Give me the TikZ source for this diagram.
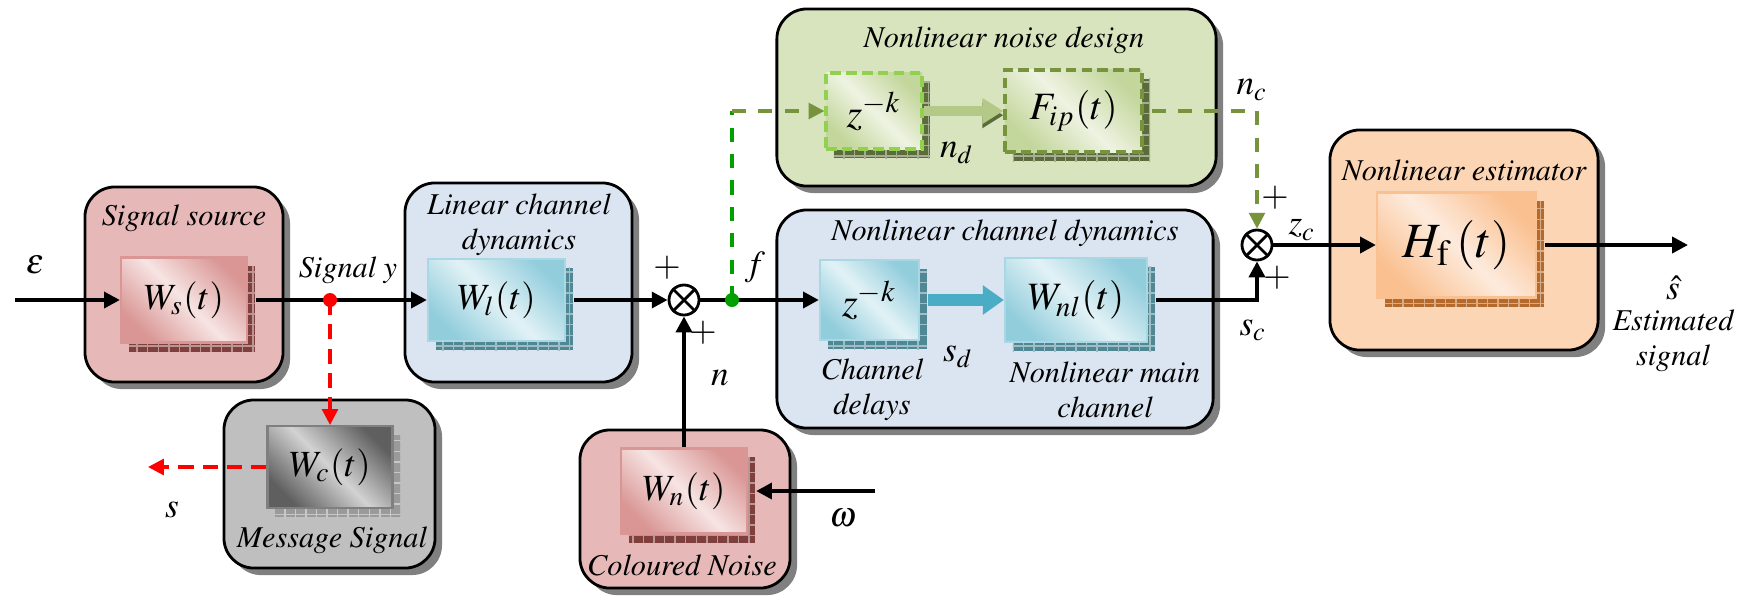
\documentclass[tikz,border=0pt]{standalone}
\usepackage[T1]{fontenc}
\usepackage{mathptmx}
\usetikzlibrary{shadows,patterns,arrows.meta}

\definecolor{ssOut}{HTML}{E6B9B8}
\definecolor{ssDark}{HTML}{D99694}
\definecolor{ssLight}{HTML}{F6E4E3}
\definecolor{ssShd}{HTML}{7F3F3D}
\definecolor{msgOut}{HTML}{BFBFBF}
\definecolor{msgDark}{HTML}{5F5F5F}
\definecolor{msgLight}{HTML}{D2D2D2}
\definecolor{msgEdge}{HTML}{7F7F7F}
\definecolor{msgShd}{HTML}{9A9A9A}
\definecolor{linOut}{HTML}{DBE5F1}
\definecolor{linDark}{HTML}{92CDDC}
\definecolor{linLight}{HTML}{E2F2F6}
\definecolor{linEdge}{HTML}{A9D8E4}
\definecolor{linShd}{HTML}{4F8795}
\definecolor{nzOut}{HTML}{D7E4BD}
\definecolor{nzDark}{HTML}{C3D69B}
\definecolor{nzLight}{HTML}{EEF3E2}
\definecolor{nzShd}{HTML}{5B6B3A}
\definecolor{estOut}{HTML}{FCD5B5}
\definecolor{estDark}{HTML}{FAC090}
\definecolor{estLight}{HTML}{FDEBDD}
\definecolor{estShd}{HTML}{B46A2C}
\definecolor{grn}{HTML}{00A000}
\definecolor{olv}{HTML}{77933C}
\definecolor{lgrn}{HTML}{92D050}
\definecolor{cyfat}{HTML}{4BACC6}

\tikzset{
  grp/.style={draw=black, line width=0.8pt, rounded corners=0.3cm, inner sep=0pt,
    drop shadow={shadow xshift=.07cm, shadow yshift=-.07cm, fill=black!50, opacity=1}},
  blk/.style n args={4}{draw=#3, line width=0.6pt, inner sep=0pt,
    top color=#1, bottom color=#1, middle color=#2, shading angle=-45,
    general shadow={shadow xshift=.08cm, shadow yshift=-.09cm, fill=#4},
    general shadow={shadow xshift=.08cm, shadow yshift=-.09cm, pattern=grid, pattern color=white!45!#4},
    font=\fontsize{10.5}{12}\selectfont},
  ttl/.style={font=\fontsize{8.6}{9.8}\selectfont\itshape, inner sep=0pt},
  lbl/.style={font=\fontsize{10}{12}\selectfont, inner sep=0pt},
  sumnode/.style={circle, draw, line width=0.8pt, fill=white, minimum size=0.3cm, inner sep=0pt},
  sig/.style={line width=1.1pt, -{Triangle[length=4.5pt,width=4.5pt]}},
  redd/.style={red, line width=0.9pt, dash pattern=on 4.3pt off 2.6pt, -{Triangle[length=4.5pt,width=4.5pt]}},
  grnd/.style={grn, line width=0.9pt, dash pattern=on 4pt off 3.5pt},
  olvd/.style={olv, line width=0.9pt, dash pattern=on 4pt off 3.5pt, -{Triangle[length=4.5pt,width=4.5pt]}},
  fatcy/.style={cyfat, line width=3.5pt, -{Triangle[length=6pt,width=8pt]}},
  fatnz/.style={nzDark!80!olv, line width=3pt, -{Triangle[length=6pt,width=7pt]},
    preaction={draw=nzShd, transform canvas={yshift=-1.2pt}}}
}

\begin{document}
\begin{tikzpicture}[x=0.01cm,y=-0.01cm]
\useasboundingbox (0,0) rectangle (1754,599);

% group boxes
\node[grp, fill=ssOut, minimum width=1.98cm, minimum height=1.95cm] (gsrc) at (184,284.5) {};
\node[grp, fill=msgOut, minimum width=2.11cm, minimum height=1.68cm] (gmsg) at (329.5,484) {};
\node[grp, fill=linOut, minimum width=2.27cm, minimum height=1.99cm] (glin) at (518.5,282.5) {};
\node[grp, fill=nzOut, minimum width=4.39cm, minimum height=1.77cm] (gdesign) at (996.5,97.5) {};
\node[grp, fill=linOut, minimum width=4.36cm, minimum height=2.18cm] (gnlin) at (995,319) {};
\node[grp, fill=ssOut, minimum width=2.10cm, minimum height=1.58cm] (gnoise) at (685,509) {};
\node[grp, fill=estOut, minimum width=2.68cm, minimum height=2.20cm] (gest) at (1464,240) {};

% titles
\node[ttl] (tsrc) at (184,218) {Signal source};
\node[ttl] (tmsg) at (332,540) {Message Signal};
\node[ttl, align=center] (tlin) at (519,225) {Linear channel\\dynamics};
\node[ttl] (tnoise) at (682,565) {Coloured Noise};
\node[ttl] (tdesign) at (1004,40) {Nonlinear noise design};
\node[ttl] (tnlin) at (1005,233) {Nonlinear channel dynamics};
\node[ttl] (test) at (1464,170) {Nonlinear estimator};
\node[ttl, align=center] (tdel) at (872,390) {Channel\\delays};
\node[ttl, align=center] (tmain) at (1105,390) {Nonlinear main\\channel};

% blocks
\node[blk={ssDark}{ssLight}{ssDark}{ssShd}, minimum width=1.26cm, minimum height=0.85cm] (ws) at (184,300) {$W_s(t)$};
\node[blk={msgDark}{msgLight}{msgEdge}{msgShd}, minimum width=1.25cm, minimum height=0.82cm] (wc) at (330,467) {$W_c(t)$};
\node[blk={linDark}{linLight}{linEdge}{linShd}, minimum width=1.37cm, minimum height=0.82cm] (wl) at (496.5,300) {$W_l(t)$};
\node[blk={ssDark}{ssLight}{ssDark}{ssShd}, minimum width=1.26cm, minimum height=0.85cm] (wn) at (684,491) {$W_n(t)$};
\node[blk={linDark}{linLight}{linEdge}{linShd}, minimum width=0.99cm, minimum height=0.80cm, font=\fontsize{11.5}{12}\selectfont] (zk1) at (869.5,300) {$z^{-k}$};
\node[blk={linDark}{linLight}{linEdge}{linShd}, minimum width=1.42cm, minimum height=0.84cm, font=\fontsize{11}{12}\selectfont] (wnl) at (1076,300) {$W_{nl}(t)$};
\node[blk={nzDark}{nzLight}{lgrn}{nzShd}, minimum width=0.96cm, minimum height=0.76cm, line width=0.9pt, dash pattern=on 3pt off 1.5pt, font=\fontsize{11.5}{12}\selectfont] (zk2) at (874,111) {$z^{-k}$};
\node[blk={nzDark}{nzLight}{olv}{nzShd}, minimum width=1.37cm, minimum height=0.82cm, line width=0.9pt, dash pattern=on 3pt off 1.5pt, font=\fontsize{11}{12}\selectfont] (fip) at (1073.5,111) {$F_{ip}(t)$};
\node[blk={estDark}{estLight}{estDark}{estShd}, minimum width=1.59cm, minimum height=1.05cm, font=\fontsize{14}{16}\selectfont] (hf) at (1456.5,245) {$H_{\mathrm{f}}\,(t)$};

% summing points
\node[sumnode] (s1) at (684,300) {};
\node[sumnode] (s2) at (1257,245) {};
\draw[line width=0.8pt] (s1.north west) -- (s1.south east) (s1.north east) -- (s1.south west);
\draw[line width=0.8pt] (s2.north west) -- (s2.south east) (s2.north east) -- (s2.south west);

\coordinate (ein) at (15,300);
\coordinate (win) at (875,491);
\coordinate (sleft) at (148,467);
\coordinate (sout) at (1688,245);
\coordinate (gdot) at (732,300);
\coordinate (gcorner) at (gdot |- zk2.west);

% connectors
\draw[sig] (ein) -- (ws.west);
\draw[sig] ([xshift=.08cm]ws.east) -- (wl.west);
\draw[sig] ([xshift=.08cm]wl.east) -- (s1.west);
\draw[sig] (wn.north) -- (s1.south);
\draw[sig] (win) -- ([xshift=.08cm]wn.east);
\draw[sig] (s1.east) -- (zk1.west);
\draw[fatcy] ([xshift=.08cm]zk1.east) -- (wnl.west);
\draw[sig] ([xshift=.08cm]wnl.east) -| (s2.south);
\draw[sig] (s2.east) -- (hf.west);
\draw[sig] ([xshift=.08cm]hf.east) -- (sout);
\draw[redd] (330,300) -- (wc.north);
\draw[redd] (wc.west) -- (sleft);
\draw[grnd] (gdot) -- (gcorner);
\draw[olvd] (gcorner) -- (zk2.west);
\draw[fatnz] (zk2.east) -- (fip.west);
\draw[olvd] ([xshift=.08cm]fip.east) -| (s2.north);

% pick-off dots
\node[circle, fill=red, inner sep=0pt, minimum size=0.14cm] (rdot) at (330,300) {};
\node[circle, fill=grn, inner sep=0pt, minimum size=0.14cm] (gdotn) at (gdot) {};

% labels
\node[lbl] (leps) at (35,265) {$\varepsilon$};
\node[ttl] (ly) at (348,270) {Signal y};
\node[lbl] (ls) at (172,510) {$s$};
\node[lbl] (ln) at (720,378) {$n$};
\node[lbl] (lf) at (755,267) {$f$};
\node[lbl] (lw) at (843,518) {$\omega$};
\node[lbl] (lsd) at (958,357) {$s_d$};
\node[lbl] (lnd) at (957,153) {$n_d$};
\node[lbl] (lnc) at (1252,90) {$n_c$};
\node[lbl] (lzc) at (1302,230) {$z_c$};
\node[lbl] (lsc) at (1253,330) {$s_c$};
\node[lbl] (lhat) at (1673,288) {$\hat{s}$};
\node[ttl, align=center] (lest) at (1673,341) {Estimated\\signal};
\node[lbl] (p1) at (667,268) {$+$};
\node[lbl] (p2) at (703,333) {$+$};
\node[lbl] (p3) at (1275,198) {$+$};
\node[lbl] (p4) at (1277,278) {$+$};
\end{tikzpicture}
\end{document}
